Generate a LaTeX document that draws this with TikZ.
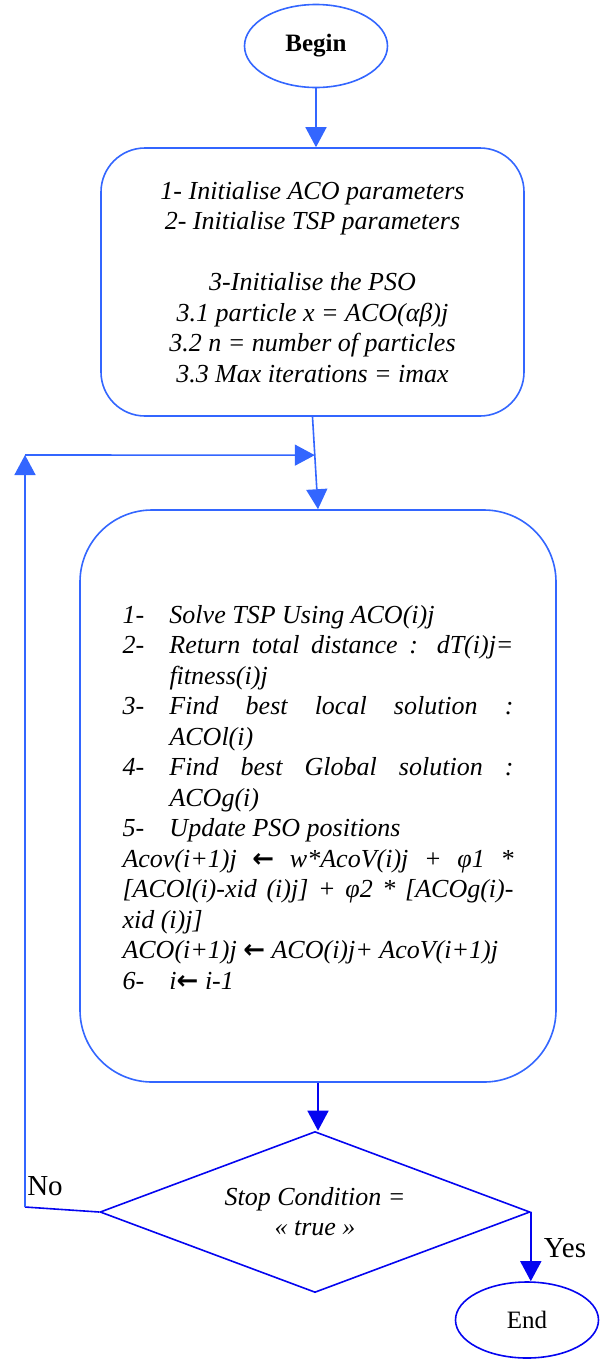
\documentclass[tikz,border=0pt]{standalone}
\usepackage{fontspec}
\setmainfont{Liberation Serif}
\newfontfamily\arrowfont{DejaVu Sans}
\usetikzlibrary{arrows.meta,shapes.geometric,calc}
\definecolor{flowblue}{RGB}{51,102,255}
\definecolor{deepblue}{RGB}{5,5,240}
\tikzstyle{terminal}=[ellipse,draw=flowblue,line width=1.6pt,inner sep=0pt,font=\fontsize{25}{30}\selectfont]
\tikzstyle{process}=[rectangle,draw=flowblue,line width=1.6pt,inner sep=0pt,font=\fontsize{26}{30.5}\selectfont\itshape]
\tikzstyle{decision}=[diamond,draw=deepblue,line width=1.6pt,inner sep=0pt,aspect=2.67,font=\fontsize{26}{30}\selectfont\itshape]
\tikzstyle{edge}=[draw,line width=1.6pt,-{Triangle[length=20pt,width=21pt]}]
\tikzstyle{answer}=[inner sep=0pt,font=\fontsize{29}{34}\selectfont]
\newcommand{\larr}{{\arrowfont\bfseries ←}}
\newcommand{\stepline}[2]{\par\noindent\hangindent=47pt\hangafter=1\makebox[47pt][l]{#1}#2}

\begin{document}
\begin{tikzpicture}[x=1pt,y=-1pt]
    \useasboundingbox (0,0) rectangle (607,1360);

    % the blocks of the flow
    \node[terminal,minimum width=143pt,minimum height=83pt] (begin) at (316,46) {\textbf{Begin}};
    \node[process,rounded corners=44pt,minimum width=423pt,minimum height=268pt,align=center] (init) at (312.5,282)
        {1- Initialise ACO parameters\\2- Initialise TSP parameters\\[30.5pt]
         3-Initialise the PSO\\3.1 particle x = ACO(αβ)j\\3.2 n = number of particles\\3.3 Max iterations = imax};
    \node[process,rounded corners=72pt,minimum width=476pt,minimum height=572pt,text width=391pt,align=justify] (loop) at (318,796)
        {\hyphenpenalty=10000
         \stepline{1-}{Solve TSP Using ACO(i)j}
         \stepline{2-}{Return total distance : dT(i)j=\linebreak fitness(i)j}
         \stepline{3-}{Find best local solution :\linebreak ACOl(i)}
         \stepline{4-}{Find best Global solution :\linebreak ACOg(i)}
         \stepline{5-}{Update PSO positions}
         \par\noindent Acov(i+1)j \larr{} w*AcoV(i)j + φ1 *\linebreak{}[ACOl(i)-xid (i)j] + φ2 * [ACOg(i)-\linebreak{}xid (i)j]
         \par\noindent ACO(i+1)j \larr{} ACO(i)j+ AcoV(i+1)j
         \stepline{6-}{i\larr{} i-1}
         \par\nointerlineskip\vbox to 10pt{}};
    \node[decision,minimum width=430pt,minimum height=161pt,align=center] (stop) at (315,1212)
        {Stop Condition =\\« true »};
    \node[terminal,draw=deepblue,minimum width=143pt,minimum height=76pt] (finish) at (527,1320) {End};

    % answers of the test
    \node[answer] (no) at (45,1186) {No};
    \node[answer] (yes) at (565,1248) {Yes};

    \coordinate (join) at ($(init.south)!0.415!(loop.north)$);
    \coordinate (back) at (25,455);
    \coordinate (turn) at (25,1207);

    % connectors
    \path[edge,flowblue] (begin.south) -- (begin.south |- init.north);
    \path[edge,flowblue] (init.south) -- (loop.north);
    \path[edge,deepblue] (loop.south) -- (loop.south |- stop.north);
    \path[edge,deepblue] (stop.east) -- (stop.east |- finish.north);

    % back to the loop when the test fails
    \draw[deepblue,line width=1.6pt] (stop.west) -- (turn);
    \path[edge,flowblue] (turn) -- (back);
    \path[edge,flowblue] (back) -- (join);
\end{tikzpicture}
\end{document}
